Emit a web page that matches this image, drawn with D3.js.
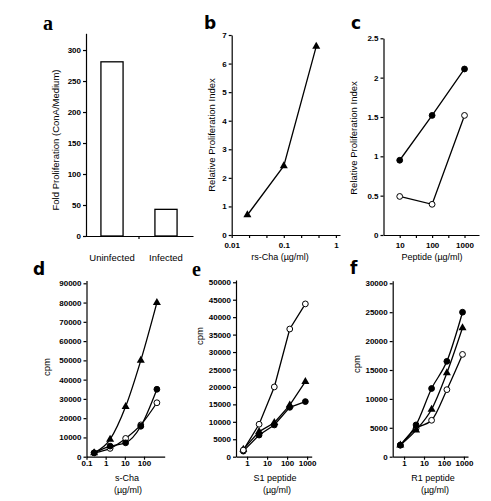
<!DOCTYPE html>
<html><head><meta charset="utf-8">
<script src="https://cdn.jsdelivr.net/npm/d3@7"></script>
<style>body{margin:0;background:#fff}svg{display:block}</style>
</head><body>
<script>
// ---------- Panel a ----------
const aCategories = ["Uninfected", "Infected"];
const aValues = [281, 43];
const aTicks = [0, 50, 100, 150, 200, 250, 300];
// ---------- Panel b ----------
const bDose = [0.02, 0.1, 0.42];
const bIndex = [0.7, 2.42, 6.6];
const bTicks = [0, 1, 2, 3, 4, 5, 6, 7];
const bXLabels = [0.01, 0.1, 1];
// ---------- Panel c ----------
const cDose = [10, 100, 1000];
const cFilled = [0.95, 1.52, 2.11];
const cOpen = [0.49, 0.39, 1.52];
const cTicks = [0, 0.5, 1, 1.5, 2, 2.5];
const cXLabels = [10, 100, 1000];
// ---------- Panel d ----------
const dDose = [0.25, 1.7, 11, 68, 470];
const dTriangle = [2000, 9000, 26000, 50000, 80000];
const dFilled = [2000, 5500, 7200, 15800, 35000];
const dOpen = [2000, 4300, 9500, 16500, 28000];
const dTicks = [0, 10000, 20000, 30000, 40000, 50000, 60000, 70000, 80000, 90000];
const dXLabels = [0.1, 1, 10, 100];
// ---------- Panel e ----------
const eDose = [0.65, 4, 23, 136, 820];
const eOpen = [1900, 9300, 20000, 36600, 43800];
const eTriangle = [2100, 7200, 9750, 14800, 21500];
const eFilled = [1600, 6200, 9100, 14150, 15800];
const eTicks = [0, 5000, 10000, 15000, 20000, 25000, 30000, 35000, 40000, 45000, 50000];
const eXLabels = [1, 10, 100, 1000];
// ---------- Panel f ----------
const fDose = [0.65, 4, 24, 140, 850];
const fFilled = [2000, 5500, 11800, 16500, 25000];
const fTriangle = [2000, 4600, 8200, 14500, 22300];
const fOpen = [2000, 4900, 6300, 11600, 17700];
const fTicks = [0, 5000, 10000, 15000, 20000, 25000, 30000];
const fXLabels = [1, 10, 100, 1000];

const W = 491, H = 501;
const SANS = "'Liberation Sans', Arial, Helvetica, sans-serif";
const SERIF = "'Liberation Serif', 'DejaVu Serif', serif";
const svg = d3.select("body").append("svg").attr("width", W).attr("height", H);

function styleAxis(g, bold) {
  g.selectAll("path,line").attr("stroke", "#000").attr("stroke-width", 1.2);
  g.selectAll("text").style("font-family", SANS).attr("font-size", 8)
    .attr("font-weight", bold ? "bold" : "normal").attr("fill", "#000");
}
function fmt(v) { return String(v); }

function yAxis(y, x0, ticks) {
  const g = svg.append("g").attr("transform", `translate(${x0},0)`)
    .call(d3.axisLeft(y).tickValues(ticks).tickFormat(fmt).tickSize(3).tickSizeOuter(0).tickPadding(2));
  styleAxis(g, true);
  return g;
}
function xLogAxis(x, y0, tickVals, labelVals, pad) {
  const g = svg.append("g").attr("transform", `translate(0,${y0})`)
    .call(d3.axisBottom(x).tickValues(tickVals).tickSize(3).tickSizeOuter(0).tickPadding(pad)
      .tickFormat(v => labelVals.some(l => Math.abs(l - v) / l < 1e-6) ? fmt(v) : ""));
  styleAxis(g, true);
  return g;
}
function letter(t, x, y, serif) {
  svg.append("text").attr("x", x).attr("y", y).text(t)
    .style("font-family", serif ? SERIF : "'DejaVu Sans', 'Liberation Sans', sans-serif")
    .attr("font-weight", "bold").attr("font-size", serif ? 20 : 17).attr("fill", "#000");
}
function vtitle(t, x, y) {
  svg.append("text").attr("transform", `translate(${x},${y}) rotate(-90)`)
    .attr("text-anchor", "middle").attr("dominant-baseline", "central")
    .style("font-family", SANS).attr("font-size", 9.5).attr("fill", "#000").text(t);
}
function htitle(t, x, y, size) {
  svg.append("text").attr("x", x).attr("y", y).attr("text-anchor", "middle")
    .style("font-family", SANS).attr("font-size", size || 9.5).attr("fill", "#000").text(t);
}
function series(x, y, xs, ys, marker, curve) {
  const pts = xs.map((d, i) => [x(d), y(ys[i])]);
  svg.append("path").attr("d", d3.line().curve(curve || d3.curveLinear)(pts))
    .attr("fill", "none").attr("stroke", "#000").attr("stroke-width", 1.3);
  const g = svg.append("g");
  pts.forEach(p => {
    if (marker === "tri") {
      g.append("path").attr("d", d3.symbol(d3.symbolTriangle, 28)())
        .attr("transform", `translate(${p[0]},${p[1]})`).attr("fill", "#000");
    } else {
      g.append("circle").attr("cx", p[0]).attr("cy", p[1]).attr("r", 2.9)
        .attr("fill", marker === "open" ? "#fff" : "#000")
        .attr("stroke", "#000").attr("stroke-width", 1);
    }
  });
}

// ===== Panel a =====
{
  const x = d3.scaleBand().domain(aCategories).range([85, 193]).paddingInner(0.59).paddingOuter(0.295);
  const y = d3.scaleLinear().domain([0, 327]).range([236, 33.3]);
  svg.append("g").selectAll("rect").data(aValues).join("rect")
    .attr("x", (d, i) => x(aCategories[i])).attr("width", x.bandwidth())
    .attr("y", d => y(d)).attr("height", d => y(0) - y(d))
    .attr("fill", "#fff").attr("stroke", "#000").attr("stroke-width", 1.3);
  yAxis(y, 86, aTicks);
  const gx = svg.append("g").attr("transform", `translate(0,236)`)
    .call(d3.axisBottom(x).tickSize(0).tickSizeOuter(0).tickPadding(18.5));
  styleAxis(gx, false);
  gx.selectAll("text").attr("font-size", 9.5);
  const mid = (x(aCategories[0]) + x.bandwidth() + x(aCategories[1])) / 2;
  gx.append("line").attr("x1", mid).attr("x2", mid).attr("y1", 0).attr("y2", 3)
    .attr("stroke", "#000").attr("stroke-width", 1.2);
  vtitle("Fold Proliferation (ConA/Medium)", 55, 140);
  letter("a", 43, 30, true);
}
// ===== Panel b =====
{
  const x = d3.scaleLog().domain([0.01, 1.2]).range([231.7, 340]);
  const y = d3.scaleLinear().domain([0, 7]).range([235, 35]);
  const minor = d3.range(0, 7).map(k => 0.01 * Math.pow(10, k / 3));
  xLogAxis(x, 235, minor.map((v, i) => i % 3 === 0 ? bXLabels[i / 3] : v), bXLabels, 4);
  yAxis(y, 231.7, bTicks);
  series(x, y, bDose, bIndex, "tri");
  vtitle("Relative Proliferation Index", 211.7, 135);
  htitle("rs-Cha (µg/ml)", 280, 260, 9);
  letter("b", 204, 29);
}
// ===== Panel c =====
{
  const x = d3.scaleLog().domain([3.16, 2800]).range([383.5, 479]);
  const y = d3.scaleLinear().domain([0, 2.5]).range([235, 38.3]);
  const tv = [10, 31.6, 100, 316, 1000];
  xLogAxis(x, 235, tv, cXLabels, 4);
  yAxis(y, 383.5, cTicks);
  series(x, y, cDose, cFilled, "filled");
  series(x, y, cDose, cOpen, "open");
  vtitle("Relative Proliferation Index", 353, 138);
  htitle("Peptide (µg/ml)", 432, 260, 9);
  letter("c", 351, 29);
}
// ===== Panel d =====
{
  const x = d3.scaleLog().domain([0.1, 1200]).range([86.5, 164.7]);
  const y = d3.scaleLinear().domain([0, 91400]).range([456.7, 280.6]);
  xLogAxis(x, 456.7, dXLabels, dXLabels, 1);
  yAxis(y, 86.5, dTicks);
  series(x, y, dDose, dOpen, "open", d3.curveMonotoneX);
  series(x, y, dDose, dFilled, "filled", d3.curveMonotoneX);
  series(x, y, dDose, dTriangle, "tri", d3.curveMonotoneX);
  vtitle("cpm", 46, 367);
  htitle("s-Cha", 127, 481, 9);
  htitle("(µg/ml)", 128, 492.5, 9);
  letter("d", 33, 275);
}
// ===== Panel e =====
{
  const x = d3.scaleLog().domain([0.28, 1700]).range([236, 311.7]);
  const y = d3.scaleLinear().domain([0, 50650]).range([456.7, 280]);
  xLogAxis(x, 456.7, eXLabels, eXLabels, 1);
  yAxis(y, 236, eTicks);
  series(x, y, eDose, eFilled, "filled");
  series(x, y, eDose, eTriangle, "tri");
  series(x, y, eDose, eOpen, "open");
  vtitle("cpm", 199.5, 336);
  htitle("S1 peptide", 275, 481, 9);
  htitle("(µg/ml)", 277, 492.5, 9);
  letter("e", 192, 276, true);
}
// ===== Panel f =====
{
  const x = d3.scaleLog().domain([0.27, 1600]).range([392.7, 468]);
  const y = d3.scaleLinear().domain([0, 30450]).range([456.7, 280.7]);
  xLogAxis(x, 456.7, fXLabels, fXLabels, 1);
  yAxis(y, 392.7, fTicks);
  series(x, y, fDose, fOpen, "open", d3.curveMonotoneX);
  series(x, y, fDose, fTriangle, "tri", d3.curveMonotoneX);
  series(x, y, fDose, fFilled, "filled", d3.curveMonotoneX);
  vtitle("cpm", 356, 364);
  htitle("R1 peptide", 433, 481, 9);
  htitle("(µg/ml)", 435, 492.5, 9);
  letter("f", 350, 274);
}
</script>
</body></html>
